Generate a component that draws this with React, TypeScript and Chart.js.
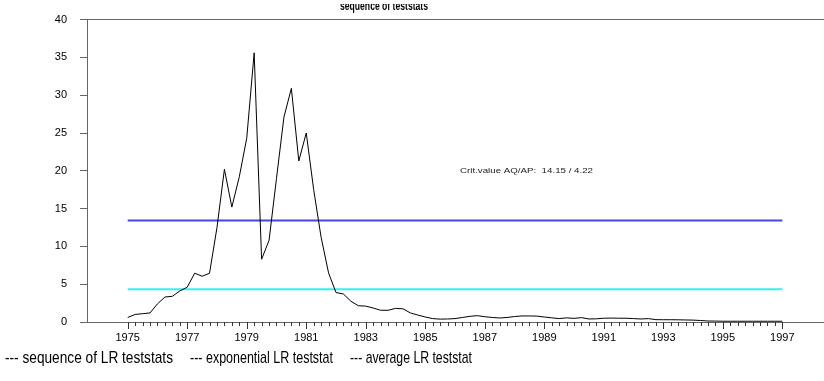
import React, { useEffect, useRef } from "react";
import { Chart, registerables } from "chart.js";

Chart.register(...registerables);

// Quarterly sequence of LR test statistics, 1975:1 .. 1997:1
const FIRST_YEAR = 1975;
const QUARTERS_PER_YEAR = 4;
const lrSequence: number[] = [
  0.6, 1.0, 1.1, 1.2, // 1975
  2.4, 3.3, 3.4, 4.1, // 1976
  4.6, 6.45, 6.05, 6.45, // 1977
  12.5, 20.2, 15.2, 19.2, // 1978
  24.3, 35.6, 8.3, 10.8, // 1979
  19.0, 27.1, 30.9, 21.3, // 1980
  25.0, 17.5, 11.2, 6.5, // 1981
  3.9, 3.7, 2.75, 2.15, // 1982
  2.1, 1.85, 1.55, 1.55, // 1983
  1.8, 1.75, 1.2, 0.92, // 1984
  0.66, 0.45, 0.38, 0.4, // 1985
  0.45, 0.6, 0.75, 0.84, // 1986
  0.7, 0.6, 0.53, 0.6, // 1987
  0.72, 0.8, 0.8, 0.78, // 1988
  0.66, 0.55, 0.45, 0.55, // 1989
  0.48, 0.58, 0.4, 0.42, // 1990
  0.5, 0.52, 0.5, 0.5, // 1991
  0.45, 0.4, 0.45, 0.31, // 1992
  0.3, 0.3, 0.29, 0.27, // 1993
  0.25, 0.2, 0.13, 0.12, // 1994
  0.1, 0.1, 0.1, 0.1, // 1995
  0.1, 0.1, 0.1, 0.1, // 1996
  0.1, // 1997
];

// Summary statistics drawn as horizontal reference levels
const expLRStat = 13.41;
const avgLRStat = 4.34;
const statSpan = [1975, 1997];

const yTickValues = [0, 5, 10, 15, 20, 25, 30, 35, 40];
const xLabelYears = [1975, 1977, 1979, 1981, 1983, 1985, 1987, 1989, 1991, 1993, 1995, 1997];

const titleText = "sequence of teststats";
const critText = "Crit.value AQ/AP:  14.15 / 4.22";
const legendTexts = [
  "--- sequence of LR teststats",
  "--- exponential LR teststat",
  "--- average LR teststat",
];

const seqPoints = lrSequence.map((v, i) => ({ x: FIRST_YEAR + i / QUARTERS_PER_YEAR, y: v }));
const quarterTicks = lrSequence.map((_, i) => FIRST_YEAR + i / QUARTERS_PER_YEAR);

function drawFitted(ctx: CanvasRenderingContext2D, text: string, x: number, y: number, width: number) {
  const w = ctx.measureText(text).width;
  ctx.save();
  ctx.translate(x, y);
  ctx.scale(width / w, 1);
  ctx.fillText(text, 0, 0);
  ctx.restore();
}

const decorations = {
  id: "decorations",
  afterDraw(chart: any) {
    const ctx: CanvasRenderingContext2D = chart.ctx;
    const xs = chart.scales.x;
    const area = chart.chartArea;

    // quarterly tick marks under the time axis
    ctx.save();
    ctx.strokeStyle = "#333";
    ctx.lineWidth = 1;
    ctx.beginPath();
    quarterTicks.forEach((v) => {
      const px = Math.round(xs.getPixelForValue(v)) + 0.5;
      const long = xLabelYears.includes(v);
      ctx.moveTo(px, area.bottom);
      ctx.lineTo(px, area.bottom + (long ? 7 : 4));
    });
    ctx.stroke();
    ctx.restore();

    // title, partly cut at the top edge
    ctx.save();
    ctx.beginPath();
    ctx.rect(0, 4, chart.width, 20);
    ctx.clip();
    ctx.fillStyle = "#000";
    ctx.font = "bold 12px Arial, 'Liberation Sans'";
    ctx.textBaseline = "alphabetic";
    drawFitted(ctx, titleText, 340, 10, 88);
    ctx.restore();

    // critical value note
    ctx.save();
    ctx.fillStyle = "#222";
    ctx.font = "8px Arial, 'Liberation Sans'";
    ctx.textBaseline = "alphabetic";
    drawFitted(ctx, critText, 460, 173, 133);
    ctx.restore();

    // text legend along the bottom
    ctx.save();
    ctx.fillStyle = "#000";
    ctx.font = "17px 'Liberation Sans Narrow', Arial";
    ctx.textBaseline = "alphabetic";
    drawFitted(ctx, legendTexts[0], 5, 363, 168);
    drawFitted(ctx, legendTexts[1], 190, 363, 143);
    drawFitted(ctx, legendTexts[2], 350, 363, 122);
    ctx.restore();
  },
};

export default function App() {
  const canvasRef = useRef<HTMLCanvasElement | null>(null);

  useEffect(() => {
    if (!canvasRef.current) return;
    const chart = new Chart(canvasRef.current, {
      type: "line",
      data: {
        datasets: [
          {
            label: "sequence of LR teststats",
            data: seqPoints,
            borderColor: "#000",
            borderWidth: 1,
            pointRadius: 0,
            tension: 0,
          },
          {
            label: "exponential LR teststat",
            data: statSpan.map((x) => ({ x, y: expLRStat })),
            borderColor: "#4646e6",
            borderWidth: 2,
            pointRadius: 0,
          },
          {
            label: "average LR teststat",
            data: statSpan.map((x) => ({ x, y: avgLRStat })),
            borderColor: "#33f2f2",
            borderWidth: 2,
            pointRadius: 0,
          },
        ],
      },
      options: {
        responsive: false,
        animation: false,
        devicePixelRatio: 1,
        layout: { padding: { top: 17.5, right: 0, bottom: 0, left: 0 } },
        plugins: {
          legend: { display: false },
          tooltip: { enabled: false },
          title: { display: false },
        },
        scales: {
          x: {
            type: "linear",
            min: 1973.632,
            max: 1998.4,
            afterBuildTicks: (s: any) => {
              s.ticks = quarterTicks.map((v) => ({ value: v }));
            },
            afterFit: (s: any) => {
              s.height = 59;
            },
            ticks: {
              autoSkip: false,
              maxRotation: 0,
              padding: 2,
              color: "#000",
              font: { family: "Arial, 'Liberation Sans'", size: 11 },
              callback: (v: any) => (xLabelYears.includes(Number(v)) ? String(v) : ""),
            },
            grid: {
              display: true,
              drawOnChartArea: false,
              drawTicks: true,
              tickLength: 7,
              tickColor: "rgba(0,0,0,0)",
            },
            border: { display: true, color: "#666", width: 1 },
          },
          y: {
            min: 0,
            max: 40,
            afterBuildTicks: (s: any) => {
              s.ticks = yTickValues.map((v) => ({ value: v }));
            },
            afterFit: (s: any) => {
              s.width = 87;
            },
            ticks: {
              padding: 13,
              color: "#000",
              font: { family: "Arial, 'Liberation Sans'", size: 11 },
            },
            grid: {
              display: true,
              drawOnChartArea: true,
              drawTicks: true,
              tickLength: 7,
              tickColor: "#666",
              color: (c: any) => (c.tick && c.tick.value === 40 ? "#666" : "rgba(0,0,0,0)"),
            },
            border: { display: true, color: "#666", width: 1 },
          },
        },
      },
      plugins: [decorations],
    });
    return () => chart.destroy();
  }, []);

  return (
    <div style={{ position: "fixed", left: 0, top: 0, width: 824, height: 381, background: "#fff" }}>
      <canvas ref={canvasRef} width={824} height={381} style={{ display: "block" }} />
    </div>
  );
}
